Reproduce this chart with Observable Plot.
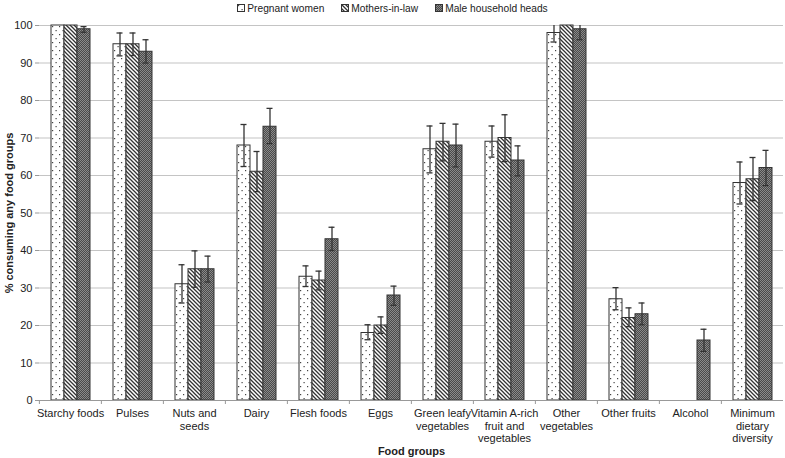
<!DOCTYPE html>
<html><head><meta charset="utf-8">
<script src="https://cdn.jsdelivr.net/npm/d3@7"></script>
<script src="https://cdn.jsdelivr.net/npm/@observablehq/plot@0.6"></script>
<style>
body{margin:0;background:#fff;font-family:"Liberation Sans",Arial,sans-serif;}
#legend{height:17px;display:flex;justify-content:center;align-items:center;font-size:10.2px;color:#222;gap:17px;}
.item{display:flex;align-items:center;}
.item svg{margin-right:1px;}
g[aria-label="y-axis label"] text, g[aria-label="fx-axis label"] text{font-weight:bold;}
</style></head><body>
<div id="legend"></div><div id="chart"></div>
<script>
const categories = ["Starchy foods","Pulses","Nuts and seeds","Dairy","Flesh foods","Eggs","Green leafy vegetables","Vitamin A-rich fruit and vegetables","Other vegetables","Other fruits","Alcohol","Minimum dietary diversity"];
const categoryLabels = ["Starchy foods","Pulses","Nuts and\nseeds","Dairy","Flesh foods","Eggs","Green leafy\nvegetables","Vitamin A-rich\nfruit and\nvegetables","Other\nvegetables","Other fruits","Alcohol","Minimum\ndietary\ndiversity"];
const seriesNames = ["Pregnant women","Mothers-in-law","Male household heads"];
const yTicks = [0,10,20,30,40,50,60,70,80,90,100];

const pregnant     = [100, 95, 31, 68, 33, 18, 67, 69, 98, 27, null, 58];
const pregnantLow  = [null, 91.9, 26, 62.4, 30.4, 16.2, 60.7, 64.9, 95.6, 24.2, null, 52.4];
const pregnantHigh = [null, 98, 36.2, 73.6, 35.9, 20.2, 73.2, 73.2, 100.4, 30.1, null, 63.6];

const mothers     = [100, 95, 35, 61, 32, 20, 69, 70, 100, 22, null, 59];
const mothersLow  = [null, 92, 30.2, 55.7, 29.5, 17.9, 63.9, 63.7, null, 19.7, null, 53.3];
const mothersHigh = [null, 98, 39.9, 66.4, 34.5, 22.3, 73.9, 76.2, null, 24.7, null, 64.8];

const male     = [99, 93, 35, 73, 43, 28, 68, 64, 99, 23, 16, 62];
const maleLow  = [98.2, 90, 31.6, 68.5, 40, 25.4, 62.3, 59.9, 96.2, 20.2, 13.1, 57.3];
const maleHigh = [99.7, 96.2, 38.5, 77.9, 46.2, 30.5, 73.7, 67.9, 101, 26, 19, 66.7];

const seriesData = [
  {name: seriesNames[0], values: pregnant, low: pregnantLow, high: pregnantHigh},
  {name: seriesNames[1], values: mothers, low: mothersLow, high: mothersHigh},
  {name: seriesNames[2], values: male, low: maleLow, high: maleHigh}
];
const rows = [];
categories.forEach((c, i) => seriesData.forEach(s => {
  if (s.values[i] != null) rows.push({group: c, series: s.name, value: s.values[i], low: s.low[i], high: s.high[i]});
}));
const errRows = rows.filter(d => d.low != null);
const labelOf = new Map(categories.map((c, i) => [c, categoryLabels[i]]));
const patternIds = ["patDots", "patDiag", "patCheck"];

const W = 785, ML = 37, MR = 1;
const step = (W - ML - MR) / categories.length;

const chart = Plot.plot({
  width: W, height: 441,
  marginLeft: ML, marginRight: MR, marginTop: 8, marginBottom: 58,
  style: {fontSize: "11px", fontFamily: "'Liberation Sans', Arial, sans-serif", color: "#222", background: "#fff"},
  fx: {domain: categories, padding: 0},
  x: {domain: seriesNames, paddingInner: 0, paddingOuter: 0.78, axis: null},
  y: {domain: [0, 100]},
  marks: [
    Plot.gridY(yTicks, {stroke: "#c4c4c4", strokeOpacity: 1, strokeWidth: 1.2}),
    ...seriesNames.map((s, k) => Plot.barY(rows.filter(d => d.series === s), {
      fx: "group", x: "series", y: "value", fill: `url(#${patternIds[k]})`, stroke: "#333", strokeWidth: 1
    })),
    Plot.ruleX(errRows, {fx: "group", x: "series", y1: "low", y2: "high", stroke: "#333", strokeWidth: 1.3, clip: true}),
    Plot.tickY(errRows, {fx: "group", x: "series", y: "low", stroke: "#333", strokeWidth: 1.3, insetLeft: 3.5, insetRight: 3.5, clip: true}),
    Plot.tickY(errRows.filter(d => d.high <= 100), {fx: "group", x: "series", y: "high", stroke: "#333", strokeWidth: 1.3, insetLeft: 3.5, insetRight: 3.5}),
    Plot.ruleY([0], {stroke: "#999", strokeWidth: 1.2}),
    Plot.axisY(yTicks, {line: true, stroke: "#999", tickSize: 4, tickPadding: 3, label: "% consuming any food groups", labelAnchor: "center", labelArrow: "none", labelOffset: 34}),
    Plot.axisFx({anchor: "bottom", tickSize: 4, tickFormat: () => "", dx: -step / 2, stroke: "#999", label: null}),
    Plot.axisFx({anchor: "bottom", tickSize: 0, tickPadding: 8, tickFormat: d => labelOf.get(d), lineHeight: 1.14, label: "Food groups", labelAnchor: "center", labelArrow: "none", labelOffset: 54})
  ]
});

d3.select(chart).insert("defs", ":first-child").html(`
  <pattern id="patDots" width="7" height="8" patternUnits="userSpaceOnUse">
    <rect width="7" height="8" fill="#fff"/>
    <rect x="1" y="1" width="1.2" height="1.2" fill="#444"/>
    <rect x="4.5" y="5" width="1.2" height="1.2" fill="#444"/>
  </pattern>
  <pattern id="patDiag" width="4" height="4" patternUnits="userSpaceOnUse">
    <rect width="4" height="4" fill="#fff"/>
    <path d="M-1,-1 L5,5 M-1,3 L1,5 M3,-1 L5,1" stroke="#333" stroke-width="1.3"/>
  </pattern>
  <pattern id="patCheck" width="2" height="2" patternUnits="userSpaceOnUse">
    <rect width="2" height="2" fill="#8a8a8a"/>
    <rect width="1" height="1" fill="#4a4a4a"/>
    <rect x="1" y="1" width="1" height="1" fill="#4a4a4a"/>
  </pattern>`);

document.getElementById("chart").appendChild(chart);

const legend = d3.select("#legend");
seriesNames.forEach((s, k) => {
  const item = legend.append("div").attr("class", "item");
  item.append("svg").attr("width", 9).attr("height", 9)
    .append("rect").attr("x", 0.5).attr("y", 0.5).attr("width", 7).attr("height", 7)
    .attr("fill", `url(#${patternIds[k]})`).attr("stroke", "#333");
  item.append("span").text(s);
});
</script>
</body></html>
